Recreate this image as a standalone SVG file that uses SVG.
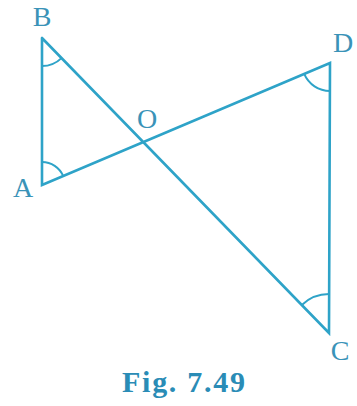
<svg xmlns="http://www.w3.org/2000/svg" width="357" height="406" viewBox="0 0 357 406">
<style>
.ln{stroke:#2ea3c8;stroke-width:2.6;fill:none;stroke-linecap:round;stroke-linejoin:miter}
.arc{stroke:#2ea3c8;stroke-width:2;fill:none}
.lbl{font-family:"Liberation Serif","Times New Roman",serif;font-size:28px;fill:#3a93b8}
.cap{font-family:"Liberation Serif","Times New Roman",serif;font-size:30px;font-weight:bold;fill:#2a8cb6}
</style>
<rect width="357" height="406" fill="#ffffff"/>
<g id="connectors">
<polyline class="ln" points="42,38 42,185 330,63 329,333 42,38"/>
</g>
<g id="angles">
<path class="arc" d="M42,66 A28,28 0 0 0 61.5,58.1"/>
<path class="arc" d="M42,162 A23,23 0 0 1 63.2,176"/>
<path class="arc" d="M330,91 A28,28 0 0 1 304.2,73.9"/>
<path class="arc" d="M329,294 A39,39 0 0 0 301.8,305"/>
</g>
<g id="node-B"><text class="lbl" x="42" y="26" text-anchor="middle">B</text></g>
<g id="node-A"><text class="lbl" x="23" y="197" text-anchor="middle">A</text></g>
<g id="node-O"><text class="lbl" x="147" y="128" text-anchor="middle">O</text></g>
<g id="node-D"><text class="lbl" x="343" y="52" text-anchor="middle">D</text></g>
<g id="node-C"><text class="lbl" x="340" y="360" text-anchor="middle">C</text></g>
<g id="caption"><text class="cap" x="122" y="392" textLength="123" lengthAdjust="spacing">Fig. 7.49</text></g>
</svg>
